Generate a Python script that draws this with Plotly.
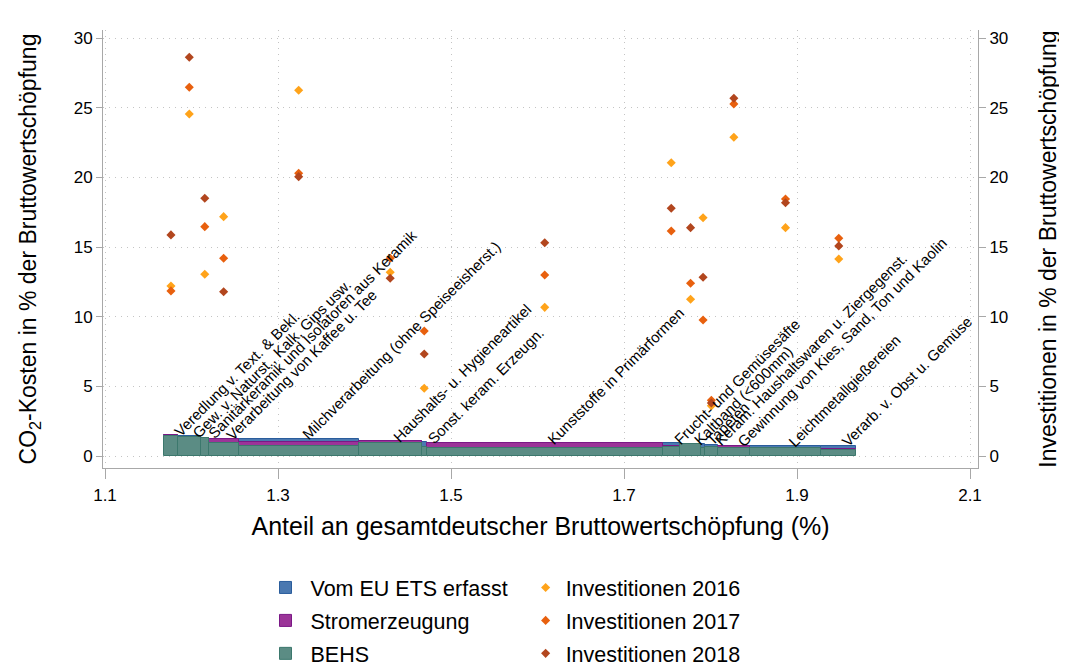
import plotly.graph_objects as go

# ---------------- data ----------------
labels = [
    "Veredlung v. Text. & Bekl.",
    "Gew. v. Naturst., Kalk, Gips usw.",
    "Sanitärkeramik und Isolatoren aus Keramik",
    "Verarbeitung von Kaffee u. Tee",
    "Milchverarbeitung (ohne Speiseeisherst.)",
    "Haushalts- u. Hygieneartikel",
    "Sonst. keram. Erzeugn.",
    "Kunststoffe in Primärformen",
    "Frucht- und Gemüsesäfte",
    "Kaltband (<600mm)",
    "Tapeten",
    "Keram. Haushaltswaren u. Ziergegenst.",
    "Gewinnung von Kies, Sand, Ton und Kaolin",
    "Leichtmetallgießereien",
    "Verarb. v. Obst u. Gemüse",
]
x_start = 1.1686
shares = [0.0153, 0.0271, 0.0087, 0.0349, 0.1386, 0.0730, 0.0057, 0.2729,
          0.0196, 0.0251, 0.0038, 0.0154, 0.0366, 0.0828, 0.0404]
behs = [1.40, 1.35, 1.30, 0.90, 0.74, 0.95, 0.67, 0.58, 0.65, 0.83, 0.60, 0.64, 0.60, 0.55, 0.42]
strom = [0.08, 0.00, 0.00, 0.30, 0.28, 0.15, 0.00, 0.32, 0.05, 0.00, 0.00, 0.00, 0.12, 0.00, 0.10]
ets = [0.00, 0.07, 0.00, 0.00, 0.22, 0.00, 0.30, 0.00, 0.20, 0.05, 0.25, 0.15, 0.00, 0.17, 0.20]
inv2016 = [12.2, 24.55, 13.04, 17.18, 26.25, 13.19, 4.86, 10.67, 21.05, 11.25, 17.1, 3.6, 22.88, 16.39, 14.14]
inv2017 = [11.85, 26.47, 16.46, 14.19, 20.29, 14.19, 8.97, 12.99, 16.15, 12.4, 9.76, 4.0, 25.27, 18.45, 15.63]
inv2018 = [15.87, 28.62, 18.5, 11.79, 20.05, 12.76, 7.32, 15.31, 17.78, 16.39, 12.83, 3.8, 25.68, 18.18, 15.08]
x_ticks = [1.1, 1.3, 1.5, 1.7, 1.9, 2.1]
y_ticks = [0, 5, 10, 15, 20, 25, 30]

# ---------------- derived positions ----------------
centers = []
pos = x_start
for w in shares:
    centers.append(pos + w / 2)
    pos += w
base_strom = [b for b in behs]
base_ets = [b + s for b, s in zip(behs, strom)]
tops = [b + s + e for b, s, e in zip(behs, strom, ets)]

FONT = "Liberation Sans, Arial, sans-serif"
C_ETS, L_ETS = "#4a78b0", "#2a5d9c"
C_STR, L_STR = "#9b3498", "#7a1886"
C_BEHS, L_BEHS = "#5b8c84", "#3c786d"
C16, C17, C18 = "#ffa31a", "#e8600e", "#b2461e"

fig = go.Figure()
fig.add_trace(go.Bar(x=centers, y=ets, base=base_ets, width=shares, name="Vom EU ETS erfasst",
                     marker=dict(color=C_ETS, line=dict(color=L_ETS, width=1)),
                     legend="legend", legendgroup="a"))
fig.add_trace(go.Bar(x=centers, y=strom, base=base_strom, width=shares, name="Stromerzeugung",
                     marker=dict(color=C_STR, line=dict(color=L_STR, width=1)),
                     legend="legend", legendgroup="b"))
fig.add_trace(go.Bar(x=centers, y=behs, base=[0] * len(behs), width=shares, name="BEHS",
                     marker=dict(color=C_BEHS, line=dict(color=L_BEHS, width=1)),
                     legend="legend", legendgroup="c"))

for vals, col, nm, g in [(inv2016, C16, "Investitionen 2016", "d"),
                         (inv2017, C17, "Investitionen 2017", "e"),
                         (inv2018, C18, "Investitionen 2018", "f")]:
    fig.add_trace(go.Scatter(x=centers, y=vals, mode="markers", name=nm, yaxis="y2",
                             marker=dict(symbol="diamond", size=7, color=col),
                             legend="legend2", legendgroup=g))

for c, t, lab in zip(centers, tops, labels):
    fig.add_annotation(x=c, y=t, text=lab, textangle=-45, xanchor="left", yanchor="bottom",
                       showarrow=False, xshift=-3, yshift=-7,
                       font=dict(family=FONT, size=15, color="black"))

axis_col = "#a8a8a8"
grid_col = "#c4c4c4"
grid_dash = "1px,5px"
x_min = 1.1 - 2 / 865
x_max = 2.1 + 8 / 865
y_min = -12 / 13.933
y_max = 30 + 8 / 13.933

fig.update_layout(
    width=1059, height=659,
    margin=dict(l=95, r=89, t=22, b=199, autoexpand=False),
    paper_bgcolor="white", plot_bgcolor="white",
    barmode="overlay", bargap=0,
    font=dict(family=FONT, color="black"),
    xaxis=dict(range=[x_min, x_max], tickvals=x_ticks, ticktext=[f"{v:.1f}" for v in x_ticks],
               showgrid=True, gridcolor=grid_col, griddash=grid_dash, gridwidth=1,
               showline=True, linecolor=axis_col, linewidth=1,
               ticks="outside", ticklen=10, tickcolor=axis_col, ticklabelstandoff=2,
               tickfont=dict(size=17, family=FONT), zeroline=False, automargin=False,
               title=dict(text="Anteil an gesamtdeutscher Bruttowertschöpfung (%)",
                          font=dict(size=25, family=FONT), standoff=13)),
    yaxis=dict(range=[y_min, y_max], tickvals=y_ticks,
               showgrid=True, gridcolor=grid_col, griddash=grid_dash, gridwidth=1,
               showline=True, linecolor=axis_col, linewidth=1,
               ticks="outside", ticklen=6, tickcolor=axis_col,
               tickfont=dict(size=17, family=FONT), zeroline=False, automargin=False,
               title=dict(text="CO<sub>2</sub>-Kosten in % der Bruttowertschöpfung",
                          font=dict(size=23, family=FONT), standoff=30)),
    yaxis2=dict(range=[y_min, y_max], tickvals=y_ticks, overlaying="y", side="right",
                showgrid=False, showline=True, linecolor=axis_col, linewidth=1,
                ticks="outside", ticklen=7, tickcolor=axis_col,
                tickfont=dict(size=17, family=FONT), zeroline=False, automargin=False,
                title=dict(text="Investitionen in % der Bruttowertschöpfung",
                           font=dict(size=23, family=FONT), standoff=32)),
    legend=dict(x=0.18, y=-0.226, xanchor="left", yanchor="top", orientation="v",
                font=dict(size=21.5, family=FONT), bgcolor="rgba(0,0,0,0)", traceorder="grouped",
                tracegroupgap=2, itemwidth=40),
    legend2=dict(x=0.483, y=-0.226, xanchor="left", yanchor="top", orientation="v",
                 font=dict(size=21.5, family=FONT), bgcolor="rgba(0,0,0,0)", traceorder="grouped",
                 tracegroupgap=2),
)

fig.write_html("out.html")
